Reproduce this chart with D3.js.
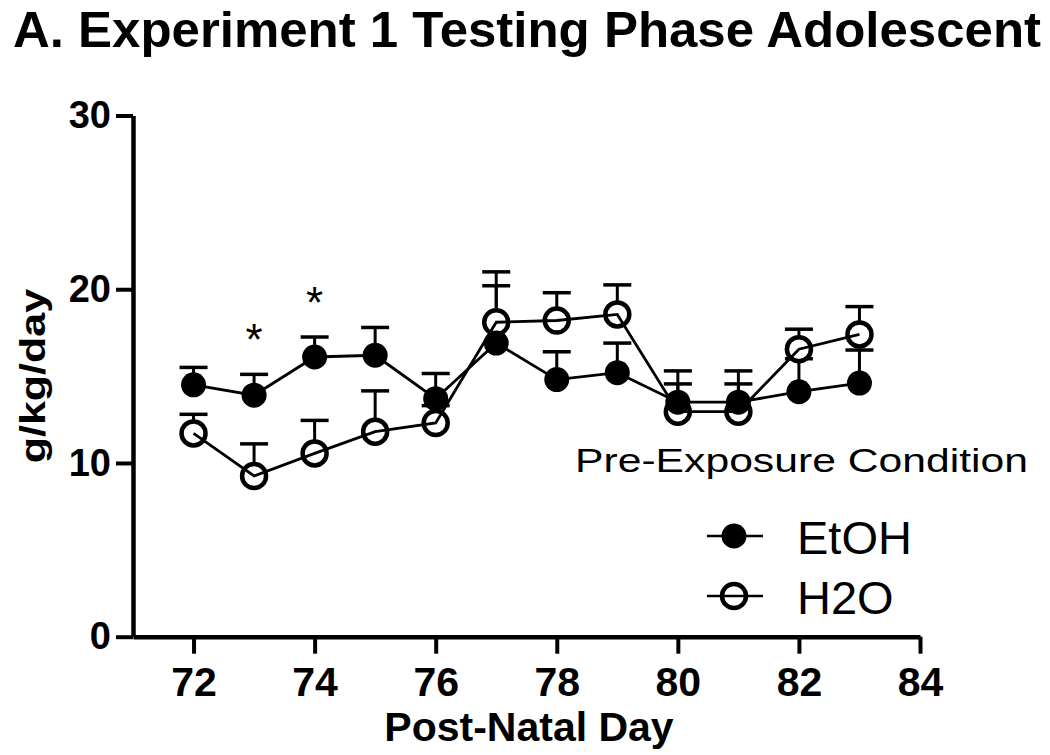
<!DOCTYPE html>
<html>
<head>
<meta charset="utf-8">
<script src="https://cdn.jsdelivr.net/npm/d3@7"></script>
<style>
  html, body { margin: 0; padding: 0; background: #fff; }
  svg { display: block; font-family: Arial, "Liberation Sans", sans-serif; }
</style>
</head>
<body>
<svg id="chart" width="1050" height="755"></svg>
<script>
// ---- data ----
const days = [72, 73, 74, 75, 76, 77, 78, 79, 80, 81, 82, 83];
const etohMean = [14.5, 13.9, 16.1, 16.2, 13.7, 16.9, 14.8, 15.2, 13.5, 13.5, 14.1, 14.6];
const etohSem  = [1.0, 1.2, 1.15, 1.6, 1.45, 3.3, 1.6, 1.7, 1.8, 1.8, 1.9, 1.9];
const h2oMean  = [11.7, 9.25, 10.55, 11.8, 12.3, 18.1, 18.2, 18.55, 12.95, 12.95, 16.55, 17.4];
const h2oSem   = [1.1, 1.85, 1.9, 2.35, 1.0, 2.9, 1.6, 1.7, 1.6, 1.6, 1.15, 1.6];
const xTicks = [72, 74, 76, 78, 80, 82, 84];
const yTicks = [0, 10, 20, 30];
const starDays = [73, 74];
const starValues = [17.66, 19.77];
const titleText = "A. Experiment 1 Testing Phase Adolescent";
const xLabel = "Post-Natal Day";
const yLabel = "g/kg/day";
const legendTitle = "Pre-Exposure Condition";
const seriesNames = ["EtOH", "H2O"];

// ---- layout ----
const svg = d3.select("#chart");
const x = d3.scaleLinear().domain([71, 84]).range([133, 920]);
const y = d3.scaleLinear().domain([0, 30]).range([636.7, 115.5]);

// title
svg.append("text")
  .attr("x", 13).attr("y", 47)
  .attr("font-size", 50).attr("font-weight", "bold")
  .attr("textLength", 1028).attr("lengthAdjust", "spacingAndGlyphs")
  .text(titleText);

// axes
const yAxis = svg.append("g")
  .attr("transform", `translate(${x(71)},0)`)
  .call(d3.axisLeft(y).tickValues(yTicks).tickSize(17).tickSizeOuter(0).tickPadding(5).tickFormat(d3.format("d")));
yAxis.select(".domain").attr("stroke-width", 4.5).attr("stroke", "#000");
yAxis.selectAll(".tick line").attr("stroke-width", 4).attr("stroke", "#000");
yAxis.selectAll(".tick text")
  .attr("font-size", 38).attr("font-weight", "bold").attr("fill", "#000")
  .attr("font-family", "Arial, 'Liberation Sans', sans-serif");

const xAxis = svg.append("g")
  .attr("transform", `translate(0,${y(0)})`)
  .call(d3.axisBottom(x).tickValues(xTicks).tickSize(17).tickSizeOuter(0).tickPadding(13).tickFormat(d3.format("d")));
xAxis.select(".domain").attr("stroke-width", 4.5).attr("stroke", "#000");
xAxis.selectAll(".tick line").attr("stroke-width", 4).attr("stroke", "#000");
xAxis.selectAll(".tick text")
  .attr("font-size", 41).attr("font-weight", "bold").attr("fill", "#000")
  .attr("font-family", "Arial, 'Liberation Sans', sans-serif");

// axis labels
svg.append("text")
  .attr("x", 529).attr("y", 741)
  .attr("text-anchor", "middle")
  .attr("font-size", 41).attr("font-weight", "bold")
  .text(xLabel);

svg.append("text")
  .attr("transform", `translate(45,${(y(10) + y(20)) / 2}) rotate(-90) scale(1,0.82)`)
  .attr("text-anchor", "middle")
  .attr("font-size", 43).attr("font-weight", "bold")
  .text(yLabel);

// data
const etoh = days.map((d, i) => ({ day: d, mean: etohMean[i], sem: etohSem[i] }));
const h2o = days.map((d, i) => ({ day: d, mean: h2oMean[i], sem: h2oSem[i] }));

const capW = 28;
function errorBars(data) {
  const g = svg.append("g").attr("stroke", "#000");
  g.selectAll("line.stem").data(data).join("line")
    .attr("class", "stem")
    .attr("x1", d => x(d.day)).attr("x2", d => x(d.day))
    .attr("y1", d => y(d.mean)).attr("y2", d => y(d.mean + d.sem))
    .attr("stroke-width", 3);
  g.selectAll("line.cap").data(data).join("line")
    .attr("class", "cap")
    .attr("x1", d => x(d.day) - capW / 2).attr("x2", d => x(d.day) + capW / 2)
    .attr("y1", d => y(d.mean + d.sem)).attr("y2", d => y(d.mean + d.sem))
    .attr("stroke-width", 3.5);
}
errorBars(etoh);
errorBars(h2o);

// open circles (white fill hides stems)
svg.append("g").selectAll("circle").data(h2o).join("circle")
  .attr("cx", d => x(d.day)).attr("cy", d => y(d.mean)).attr("r", 12)
  .attr("fill", "#fff").attr("stroke", "#000").attr("stroke-width", 4.5);

const line = d3.line().x(d => x(d.day)).y(d => y(d.mean));
svg.append("path").datum(h2o).attr("d", line)
  .attr("fill", "none").attr("stroke", "#000").attr("stroke-width", 2.8);
svg.append("path").datum(etoh).attr("d", line)
  .attr("fill", "none").attr("stroke", "#000").attr("stroke-width", 2.8);

svg.append("g").selectAll("circle").data(etoh).join("circle")
  .attr("cx", d => x(d.day)).attr("cy", d => y(d.mean)).attr("r", 12.5)
  .attr("fill", "#000");

// significance stars
svg.append("g").selectAll("text").data(starDays).join("text")
  .attr("x", d => x(d)).attr("y", (d, i) => y(starValues[i]) + 25)
  .attr("text-anchor", "middle")
  .attr("font-size", 44)
  .text("*");

// legend
svg.append("text")
  .attr("x", 575).attr("y", 472)
  .attr("font-size", 33)
  .attr("textLength", 453).attr("lengthAdjust", "spacingAndGlyphs")
  .text(legendTitle);

const legY = [536, 596];
const leg = svg.append("g");
seriesNames.forEach((name, i) => {
  leg.append("line")
    .attr("x1", 707).attr("x2", 763).attr("y1", legY[i]).attr("y2", legY[i])
    .attr("stroke", "#000").attr("stroke-width", 2.5);
  if (i === 0) {
    leg.append("circle").attr("cx", 734).attr("cy", legY[i]).attr("r", 12.5).attr("fill", "#000");
  } else {
    leg.append("circle").attr("cx", 734).attr("cy", legY[i]).attr("r", 12)
      .attr("fill", "none").attr("stroke", "#000").attr("stroke-width", 4.5);
  }
  leg.append("text")
    .attr("x", 797).attr("y", legY[i] + 18)
    .attr("font-size", 47)
    .text(name);
});
</script>
</body>
</html>
